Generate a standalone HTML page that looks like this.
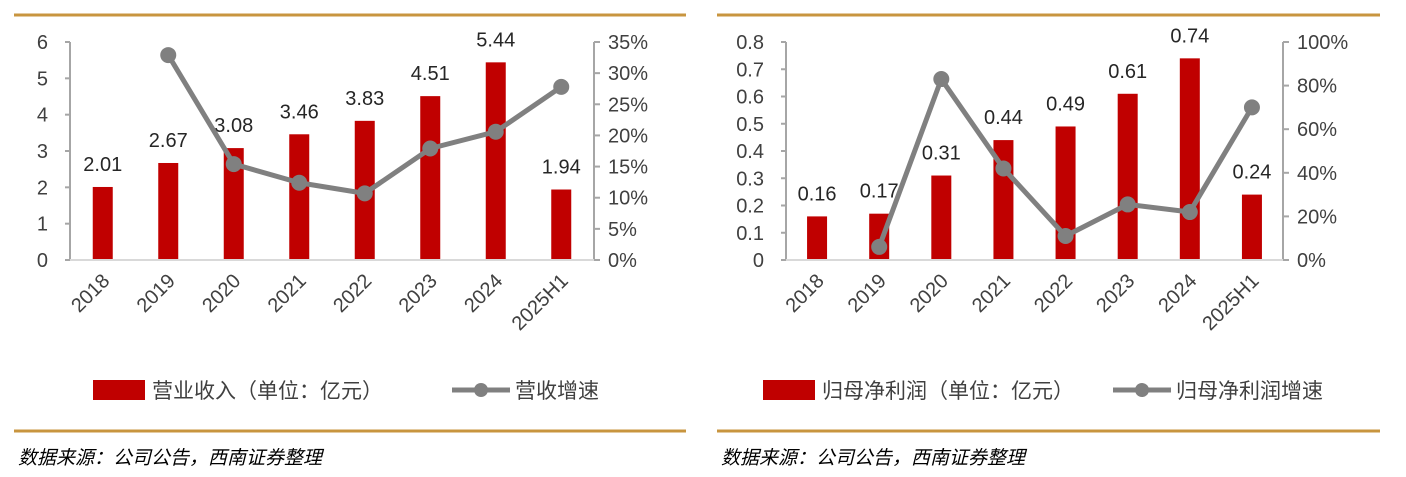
<!DOCTYPE html>
<html><head><meta charset="utf-8"><style>
body{margin:0;background:#fff;width:1406px;height:472px;overflow:hidden}
svg text{font-family:"Liberation Sans","Noto Sans CJK SC",sans-serif}
</style></head><body>
<svg id="s" width="1406" height="472" xmlns="http://www.w3.org/2000/svg"></svg>
<script>
const categories=["2018","2019","2020","2021","2022","2023","2024","2025H1"];
const revenue=[2.01,2.67,3.08,3.46,3.83,4.51,5.44,1.94];
const revGrowth=[null,32.9,15.4,12.4,10.7,17.9,20.6,27.8];
const profit=[0.16,0.17,0.31,0.44,0.49,0.61,0.74,0.24];
const profitGrowth=[null,6,83,42,11,25.5,22,70];
const leftTicks1=[0,1,2,3,4,5,6];
const rightTicks1=[0,5,10,15,20,25,30,35];
const leftTicks2=[0,0.1,0.2,0.3,0.4,0.5,0.6,0.7,0.8];
const rightTicks2=[0,20,40,60,80,100];
const NS="http://www.w3.org/2000/svg";
const svg=document.getElementById('s');
function mk(t,a,p){const e=document.createElementNS(NS,t);for(const k in a)e.setAttribute(k,a[k]);(p||svg).appendChild(e);return e;}
function chart(o){
  const g=mk('g',{});
  
  
  const x0=o.x0,x1=o.x1,yb=260,yt=42;
  const n=categories.length,step=(x1-x0)/n;
  const yL=v=>yb-(v-o.lmin)/(o.lmax-o.lmin)*(yb-yt);
  const yR=v=>yb-v/o.rmax*(yb-yt);
  const xc=i=>x0+step*(i+0.5);
  let l=mk('line',{x1:o.gx0,x2:o.gx1,y1:15,y2:15,stroke:'#c8953f','stroke-width':3},g);
  
  l=mk('line',{x1:o.gx0,x2:o.gx1,y1:431,y2:431,stroke:'#c8953f','stroke-width':3},g);
  
  l=mk('line',{x1:x0,x2:x0,y1:yt,y2:yb,stroke:'#a6a6a6','stroke-width':2},g);
  
  l=mk('line',{x1:x1,x2:x1,y1:yt,y2:yb,stroke:'#a6a6a6','stroke-width':2},g);
  
  o.lt.forEach(v=>{
    mk('line',{x1:x0-5,x2:x0,y1:yL(v),y2:yL(v),stroke:'#a6a6a6','stroke-width':2},g);
    const t=mk('text',{x:x0-22,y:yL(v)+7,'text-anchor':'end','font-size':20,fill:'#404040'},g);
    
    t.textContent=String(v);
  });
  o.rt.forEach(v=>{
    mk('line',{x1:x1,x2:x1+6,y1:yR(v),y2:yR(v),stroke:'#a6a6a6','stroke-width':2},g);
    const t=mk('text',{x:x1+14,y:yR(v)+7,'font-size':20,fill:'#404040'},g);
    
    t.textContent=v+'%';
  });
  o.bars.forEach((v,i)=>{
    const r=mk('rect',{x:xc(i)-10,y:yL(v),width:20,height:yb-yL(v),fill:'#c00000'},g);
    
    const t=mk('text',{x:xc(i),y:yL(v)-16,'text-anchor':'middle','font-size':20,fill:'#262626'},g);
    
    t.textContent=v.toFixed(2);
  });
  l=mk('line',{x1:x0,x2:x1,y1:yb,y2:yb,stroke:'#d9d9d9','stroke-width':2},g);
  
  categories.forEach((c,i)=>{
    const t=mk('text',{x:0,y:0,'text-anchor':'end','font-size':20,fill:'#404040',transform:`translate(${xc(i)+8},${yb+22}) rotate(-45)`},g);
    
    t.textContent=c;
  });
  const pts=[];o.line.forEach((v,i)=>{if(v!=null)pts.push([xc(i),yR(v)]);});
  const p=mk('polyline',{points:pts.map(q=>q.join(',')).join(' '),fill:'none',stroke:'#808080','stroke-width':5,'stroke-linejoin':'round'},g);
  
  pts.forEach(q=>{const c=mk('circle',{cx:q[0],cy:q[1],r:8,fill:'#808080'},g);
    });
  const r=mk('rect',{x:o.lx,y:380,width:52,height:20,fill:'#c00000'},g);
  
  let t=mk('text',{x:o.lx+59,y:398,'font-size':21,fill:'#404040'},g);
  
  t.textContent=o.l1;
  mk('line',{x1:o.lx2,x2:o.lx2+58,y1:390,y2:390,stroke:'#808080','stroke-width':5},g);
  const c=mk('circle',{cx:o.lx2+29,cy:390,r:7,fill:'#808080'},g);
  
  t=mk('text',{x:o.lx2+63,y:398,'font-size':21,fill:'#404040'},g);
  
  t.textContent=o.l2;
  t=mk('text',{x:o.gx0+4,y:464,'font-size':19,fill:'#000','font-style':'italic','font-family':'"Liberation Serif","Noto Serif CJK SC",serif'},g);
  
  t.textContent='数据来源：公司公告，西南证券整理';
}
chart({name:'revenue-chart',x0:70,x1:594,gx0:14,gx1:686,lmin:0,lmax:6,rmax:35,lt:leftTicks1,rt:rightTicks1,bars:revenue,line:revGrowth,lx:93,lx2:452,l1:'营业收入（单位：亿元）',l2:'营收增速'});
chart({name:'profit-chart',x0:786,x1:1283,gx0:717,gx1:1380,lmin:0,lmax:0.8,rmax:100,lt:leftTicks2,rt:rightTicks2,bars:profit,line:profitGrowth,lx:763,lx2:1113,l1:'归母净利润（单位：亿元）',l2:'归母净利润增速'});
</script>
</body></html>
